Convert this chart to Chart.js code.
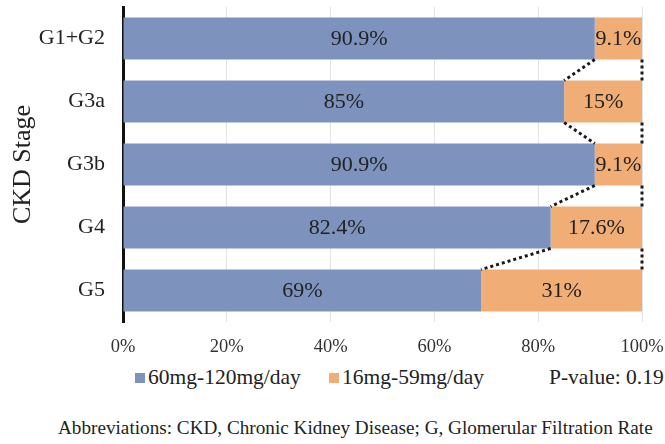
<!DOCTYPE html>
<html>
<head>
<meta charset="utf-8">
<script src="https://cdn.jsdelivr.net/npm/chart.js@4"></script>
<style>
  body { margin: 0; background: #fff; }
  #wrap { position: relative; width: 665px; height: 444px; font-family: "Liberation Serif", "Times New Roman", serif; color: #222; }
  #chartBox { position: absolute; left: 0; top: 0; width: 665px; height: 360px; }
  #legend { position: absolute; left: 0; top: 365px; width: 665px; height: 24px; font-size: 21.5px; line-height: 24px; }
  .item { position: absolute; top: 0; white-space: nowrap; }
  .box { position: absolute; left: -13px; top: 8px; width: 10px; height: 10px; }
  #note { position: absolute; left: 58px; top: 416px; white-space: nowrap; font-size: 19.2px; line-height: 24px; }
</style>
</head>
<body>
<div id="wrap">
  <div id="chartBox"><canvas id="stage"></canvas></div>
  <div id="legend"></div>
  <div id="note">Abbreviations: CKD, Chronic Kidney Disease; G, Glomerular Filtration Rate</div>
</div>
<script>
var stages = ['G1+G2', 'G3a', 'G3b', 'G4', 'G5'];
var highDose = [90.9, 85, 90.9, 82.4, 69];
var lowDose = [9.1, 15, 9.1, 17.6, 31];
var seriesNames = ['60mg-120mg/day', '16mg-59mg/day'];
var seriesColors = ['#7d93bd', '#f0ad75'];
var pValue = 'P-value: 0.19';
var xTicks = [0, 20, 40, 60, 80, 100];

var serif = '"Liberation Serif", "Times New Roman", serif';

// legend drawn as html under the canvas
var legendEl = document.getElementById('legend');
var legendX = [148, 342];
seriesNames.forEach(function (name, i) {
    var d = document.createElement('div');
    d.className = 'item';
    d.style.left = legendX[i] + 'px';
    d.innerHTML = '<span class="box" style="background:' + seriesColors[i] + '"></span>' + name;
    legendEl.appendChild(d);
});
var pv = document.createElement('div');
pv.className = 'item';
pv.style.left = '549px';
pv.textContent = pValue;
legendEl.appendChild(pv);

// value labels + dotted connectors between bars
var extras = {
    id: 'extras',
    afterDatasetsDraw: function (chart) {
        var ctx = chart.ctx;
        var x = chart.scales.x;
        var m0 = chart.getDatasetMeta(0).data;
        var m1 = chart.getDatasetMeta(1).data;

        ctx.save();
        ctx.font = '22px ' + serif;
        ctx.fillStyle = '#222';
        ctx.textAlign = 'center';
        ctx.textBaseline = 'middle';
        [m0, m1].forEach(function (els, d) {
            var vals = d === 0 ? highDose : lowDose;
            els.forEach(function (el, i) {
                ctx.fillText(vals[i] + '%', (el.x + el.base) / 2, el.y + 1);
            });
        });

        ctx.strokeStyle = '#1a1a1a';
        ctx.lineWidth = 3;
        ctx.setLineDash([3, 3]);
        var right = x.getPixelForValue(100);
        for (var i = 0; i < m0.length - 1; i++) {
            var a = m0[i], b = m0[i + 1];
            var yA = a.y + a.height / 2, yB = b.y - b.height / 2;
            ctx.beginPath();
            ctx.moveTo(x.getPixelForValue(highDose[i]), yA);
            ctx.lineTo(x.getPixelForValue(highDose[i + 1]), yB);
            ctx.stroke();
            ctx.beginPath();
            ctx.moveTo(right, yA);
            ctx.lineTo(right, yB);
            ctx.stroke();
        }
        ctx.restore();
    }
};

new Chart(document.getElementById('stage'), {
    type: 'bar',
    data: {
        labels: stages,
        datasets: [
            { label: seriesNames[0], data: highDose, backgroundColor: seriesColors[0] },
            { label: seriesNames[1], data: lowDose, backgroundColor: seriesColors[1] }
        ]
    },
    options: {
        indexAxis: 'y',
        responsive: true,
        maintainAspectRatio: false,
        animation: false,
        layout: { padding: { top: 7, right: 23, bottom: 0, left: 8 } },
        plugins: { legend: { display: false }, tooltip: { enabled: false } },
        datasets: { bar: { categoryPercentage: 0.667, barPercentage: 1 } },
        scales: {
            x: {
                stacked: true,
                min: 0,
                max: 100,
                afterBuildTicks: function (s) { s.ticks = xTicks.map(function (v) { return { value: v }; }); },
                afterFit: function (s) { s.height = 38; s.paddingLeft = 0; s.paddingRight = 0; },
                ticks: { font: { family: serif, size: 18.5 }, color: '#333', padding: 14, maxRotation: 0, callback: function (v) { return v + '%'; } },
                grid: { color: '#e3e3e3', drawTicks: false },
                border: { display: false }
            },
            y: {
                stacked: true,
                afterFit: function (s) { s.width = 115; s.paddingTop = 0; s.paddingBottom = 0; },
                ticks: { font: { family: serif, size: 22 }, color: '#222', padding: 18 },
                grid: { display: false, drawTicks: false },
                border: { display: true, color: '#111', width: 3 },
                title: { display: true, text: 'CKD Stage', font: { family: serif, size: 26 }, color: '#222', padding: 0 }
            }
        }
    },
    plugins: [extras]
});
</script>
</body>
</html>
